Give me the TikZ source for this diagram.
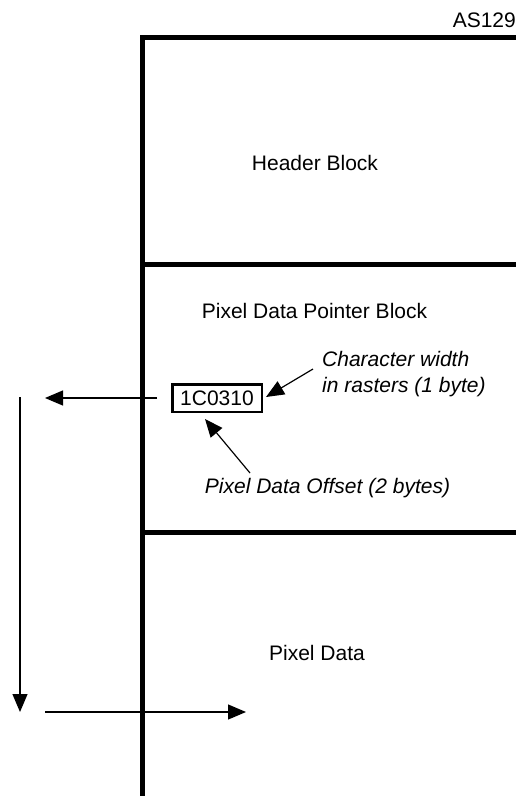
\documentclass[tikz,border=0pt]{standalone}
\usepackage{fontspec}
\setmainfont{Liberation Sans}
\usetikzlibrary{arrows.meta}
\begin{document}
\begin{tikzpicture}[x=1pt,y=-1pt,
  thick line/.style={line width=5pt},
  thin line/.style={line width=1.2pt},
  arr/.style={thin line,-{Triangle[length=18pt,width=15pt]}},
  lbl/.style={font=\fontsize{21}{26}\selectfont,inner sep=0pt},
  ilbl/.style={font=\fontsize{21}{26}\selectfont\itshape,inner sep=0pt}]
\useasboundingbox (0,0) rectangle (515,796);
\coordinate (topL) at (142,37);
\coordinate (topR) at (518,37);
\coordinate (botL) at (142,797);
\coordinate (m1L) at (142,264);
\coordinate (m1R) at (518,264);
\coordinate (m2L) at (142,532);
\coordinate (m2R) at (518,532);
\draw[thick line] (botL) -- (topL) -- (topR);
\draw[thick line] (m1L) -- (m1R);
\draw[thick line] (m2L) -- (m2R);
\node[lbl, anchor=base east] (as) at (516,27) {AS129};
\node[lbl, anchor=base] (hdr) at (315,170) {Header Block};
\node[lbl, anchor=base] (pdp) at (314.5,318) {Pixel Data Pointer Block};
\node[lbl, draw, line width=2.5pt, minimum width=89.5pt, minimum height=27.5pt, inner sep=2pt] (box) at (217,398) {1C0310};
\node[ilbl, anchor=base west] (cw1) at (322,366) {Character width};
\node[ilbl, anchor=base west] (cw2) at (322,392) {in rasters (1 byte)};
\node[ilbl, anchor=base] (pdo) at (327.5,493) {Pixel Data Offset (2 bytes)};
\node[lbl, anchor=base] (pd) at (317,660) {Pixel Data};
\coordinate (cwS) at (313,369);
\coordinate (cwT) at (266,397);
\draw[arr] (cwS) -- (cwT);
\coordinate (pdoS) at (250,473);
\coordinate (pdoT) at (205,419);
\draw[arr] (pdoS) -- (pdoT);
\coordinate (laS) at (157,398);
\coordinate (laT) at (45,398);
\draw[arr] (laS) -- (laT);
\coordinate (vS) at (20,397);
\coordinate (vT) at (20,712);
\draw[arr] (vS) -- (vT);
\coordinate (hS) at (45,712);
\coordinate (hT) at (246,712);
\draw[arr] (hS) -- (hT);
\end{tikzpicture}
\end{document}
